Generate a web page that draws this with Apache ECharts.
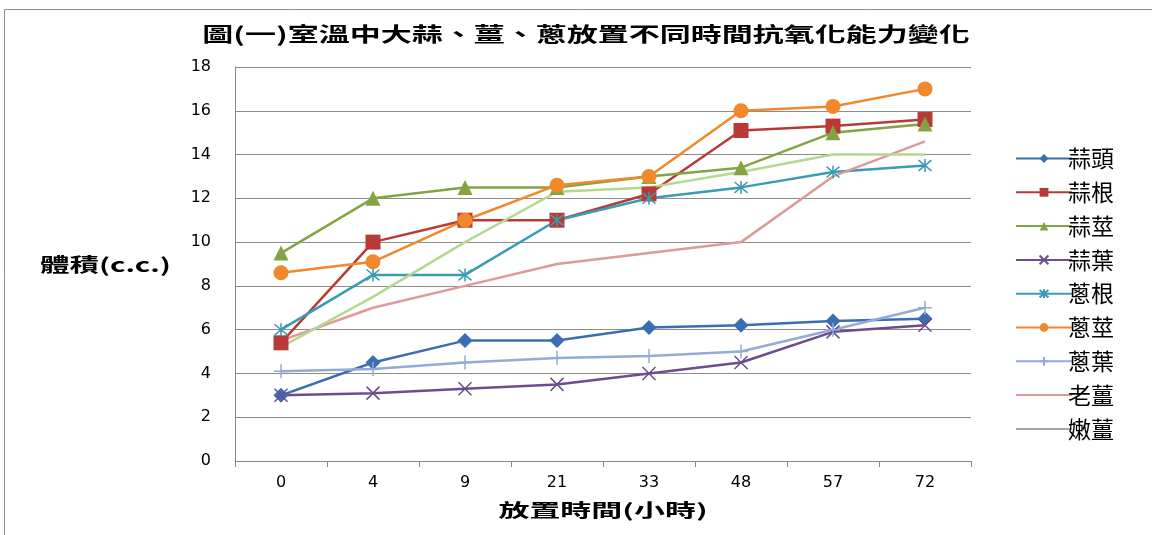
<!DOCTYPE html>
<html>
<head>
<meta charset="utf-8">
<script src="https://cdn.jsdelivr.net/npm/echarts@6/dist/echarts.min.js"></script>
<style>
html, body { margin: 0; padding: 0; background: #fff; }
#chart { width: 1152px; height: 535px; }
</style>
</head>
<body>
<div id="chart"></div>
<script>
var hours = ['0', '4', '9', '21', '33', '48', '57', '72'];
var names = ['蒜頭', '蒜根', '蒜莖', '蒜葉', '蔥根', '蔥莖', '蔥葉', '老薑', '嫩薑'];
var suantou = [3, 4.5, 5.5, 5.5, 6.1, 6.2, 6.4, 6.5];
var suangen = [5.4, 10, 11, 11, 12.2, 15.1, 15.3, 15.6];
var suanjing = [9.5, 12, 12.5, 12.5, 13, 13.4, 15, 15.4];
var suanye = [3, 3.1, 3.3, 3.5, 4, 4.5, 5.9, 6.2];
var conggen = [6, 8.5, 8.5, 11, 12, 12.5, 13.2, 13.5];
var congjing = [8.6, 9.1, 11, 12.6, 13, 16, 16.2, 17];
var congye = [4.1, 4.2, 4.5, 4.7, 4.8, 5, 6, 7];
var laojiang = [5.5, 7, 8, 9, 9.5, 10, 13, 14.6];
var nenjiang = [5.2, 7.5, 10, 12.3, 12.5, 13.2, 14, 14];
var yTicks = [0, 2, 4, 6, 8, 10, 12, 14, 16, 18];

var cjk = '"Noto Sans CJK TC", "Noto Sans CJK SC", sans-serif';
var xPath = 'path://M0,0L10,10M10,0L0,10';
var starPath = 'path://M0,0L10,10M10,0L0,10M5,-1L5,11';
var plusPath = 'path://M5,0L5,10M2,5L8,5';

function line(name, data, color, symbol, size, stroke) {
    var s = {
        name: name,
        type: 'line',
        data: data,
        symbol: symbol,
        symbolSize: size,
        showSymbol: symbol !== 'none',
        lineStyle: { color: color, width: 2.5 },
        itemStyle: { color: color },
        emphasis: { disabled: true },
        z: 3
    };
    if (stroke) {
        s.itemStyle = { color: 'none', borderColor: color, borderWidth: 1.5 };
    }
    return s;
}

var chart = echarts.init(document.getElementById('chart'));
var option = {
    backgroundColor: '#fff',
    animation: false,
    // the labels in the picture are stretched sideways, so draw them as scaled text
    graphic: [{
        type: 'rect',
        shape: { x: 4.5, y: 9.5, width: 1160, height: 540 },
        style: { fill: 'none', stroke: '#8c8c8c', lineWidth: 1 }
    }, {
        type: 'text',
        x: 586, y: 34, scaleX: 1.55,
        style: {
            text: '圖(一)室溫中大蒜、薑、蔥放置不同時間抗氧化能力變化',
            font: 'bold 20px ' + cjk, fill: '#000',
            align: 'center', verticalAlign: 'middle'
        }
    }, {
        type: 'text',
        x: 40, y: 265, scaleX: 1.55,
        style: {
            text: '體積(c.c.)', font: 'bold 19px ' + cjk, fill: '#000',
            align: 'left', verticalAlign: 'middle'
        }
    }, {
        type: 'text',
        x: 603, y: 510, scaleX: 1.72,
        style: {
            text: '放置時間(小時)', font: 'bold 18px ' + cjk, fill: '#000',
            align: 'center', verticalAlign: 'middle'
        }
    }],
    legend: {
        orient: 'vertical',
        left: 1010,
        top: 142,
        itemWidth: 56,
        itemHeight: 11,
        itemGap: 10.8,
        textStyle: { fontFamily: cjk, fontSize: 23, color: '#000', padding: [0, 0, 0, -9] },
        data: names.map(function (n) {
            if (n === '老薑') {
                return { name: n, itemStyle: { opacity: 0 } };
            }
            if (n === '嫩薑') {
                return { name: n, lineStyle: { color: '#a6a6a6' }, itemStyle: { opacity: 0 } };
            }
            return { name: n };
        })
    },
    grid: { left: 235, right: 181, top: 67, bottom: 74 },
    xAxis: {
        type: 'category',
        data: hours,
        boundaryGap: true,
        axisLine: { lineStyle: { color: '#888', width: 1 } },
        axisTick: { show: true, length: 6, lineStyle: { color: '#888' } },
        axisLabel: { fontFamily: 'DejaVu Sans', fontSize: 16, color: '#000', margin: 14 }
    },
    yAxis: {
        type: 'value',
        min: yTicks[0],
        max: yTicks[yTicks.length - 1],
        interval: 2,
        axisLine: { show: true, lineStyle: { color: '#888', width: 1 } },
        axisTick: { show: false },
        axisLabel: { fontFamily: 'DejaVu Sans', fontSize: 16, color: '#000', margin: 24 },
        splitLine: { lineStyle: { color: '#8c8c8c', width: 1 } }
    },
    series: [
        line('蒜頭', suantou, '#3b6db2', 'diamond', 15),
        line('蒜根', suangen, '#b83a37', 'rect', 15),
        line('蒜莖', suanjing, '#84a443', 'triangle', 15),
        line('蒜葉', suanye, '#6b4d8e', xPath, 13, true),
        line('蔥根', conggen, '#3a9bb3', starPath, 13, true),
        line('蔥莖', congjing, '#f0882c', 'circle', 15),
        line('蔥葉', congye, '#94abd9', plusPath, 14, true),
        line('老薑', laojiang, '#dc9a98', 'none', 0),
        line('嫩薑', nenjiang, '#b5d78f', 'none', 0)
    ]
};
chart.setOption(option);
</script>
</body>
</html>
